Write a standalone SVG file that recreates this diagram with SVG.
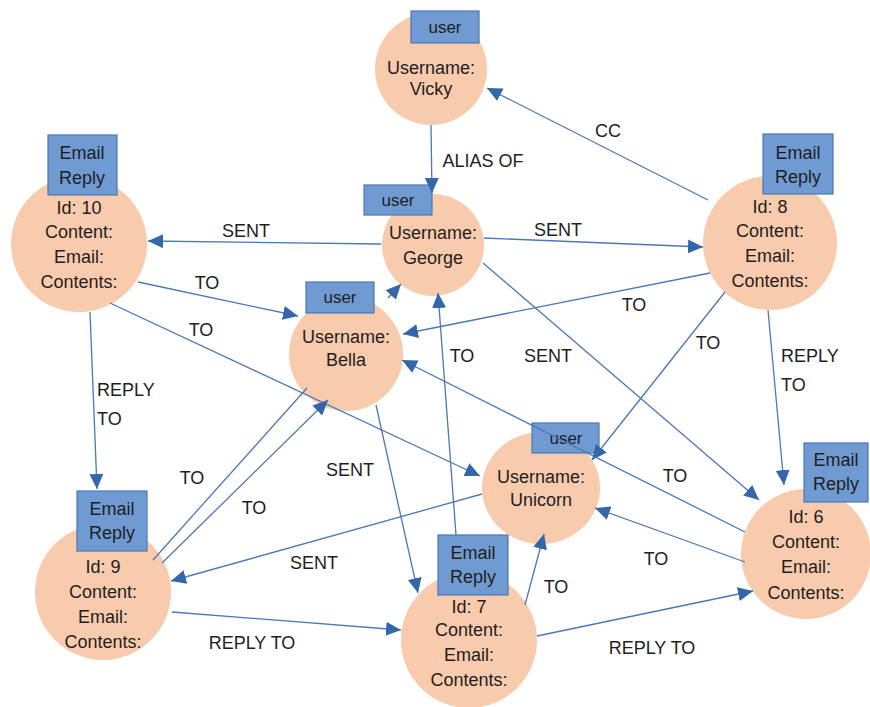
<svg xmlns="http://www.w3.org/2000/svg" width="870" height="707" viewBox="0 0 870 707">
  <style>
    .node { fill: #f8cbad; }
    .tag { fill: #6f9bd2; stroke: #4a78b6; stroke-width: 1.2; }
    text { font-family: "Liberation Sans", Arial, sans-serif; fill: #1e1e1e; }
    .nt { font-size: 18px; text-anchor: middle; }
    .tt { font-size: 17px; text-anchor: middle; }
    .lbl { font-size: 18px; text-anchor: middle; }
    .lbl-l { font-size: 18px; text-anchor: start; }
    .edge { fill: none; stroke: #4a78b8; stroke-width: 1.3; marker-end: url(#head); }
  </style>
  <defs>
    <marker id="head" markerUnits="userSpaceOnUse" markerWidth="16" markerHeight="16" refX="15" refY="7" orient="auto">
      <path d="M0,0 L15,7 L0,14 Z" fill="#3366aa"/>
    </marker>
  </defs>
  <rect width="870" height="707" fill="#ffffff"/>

  <!-- nodes -->
  <g id="vicky">
    <circle class="node" cx="431" cy="69" r="56"/>
    <rect class="tag" x="411" y="11" width="68" height="32"/>
    <text class="tt" x="445" y="33">user</text>
    <text class="nt" x="431" y="74">Username:</text>
    <text class="nt" x="431" y="95">Vicky</text>
  </g>
  <g id="george">
    <circle class="node" cx="433" cy="245" r="51"/>
    <rect class="tag" x="364" y="185" width="68" height="30"/>
    <text class="tt" x="398" y="206">user</text>
    <text class="nt" x="433" y="239">Username:</text>
    <text class="nt" x="433" y="264">George</text>
  </g>
  <g id="bella">
    <circle class="node" cx="346" cy="354" r="57"/>
    <rect class="tag" x="306" y="282" width="68" height="31"/>
    <text class="tt" x="340" y="303">user</text>
    <text class="nt" x="346" y="343">Username:</text>
    <text class="nt" x="346" y="366">Bella</text>
  </g>
  <g id="unicorn">
    <ellipse class="node" cx="541" cy="488" rx="59" ry="56"/>
    <rect class="tag" x="532" y="423" width="67" height="30"/>
    <text class="tt" x="566" y="444">user</text>
    <text class="nt" x="541" y="483">Username:</text>
    <text class="nt" x="541" y="506">Unicorn</text>
  </g>
  <g id="email10">
    <circle class="node" cx="79" cy="244" r="68"/>
    <rect class="tag" x="48" y="135" width="69" height="60"/>
    <text class="nt" x="82" y="159">Email</text>
    <text class="nt" x="82" y="184">Reply</text>
    <text class="nt" x="79" y="214">Id: 10</text>
    <text class="nt" x="79" y="238">Content:</text>
    <text class="nt" x="79" y="263">Email:</text>
    <text class="nt" x="79" y="288">Contents:</text>
  </g>
  <g id="email8">
    <circle class="node" cx="770" cy="243" r="67"/>
    <rect class="tag" x="763" y="134" width="70" height="60"/>
    <text class="nt" x="798" y="159">Email</text>
    <text class="nt" x="798" y="183">Reply</text>
    <text class="nt" x="770" y="213">Id: 8</text>
    <text class="nt" x="770" y="237">Content:</text>
    <text class="nt" x="770" y="262">Email:</text>
    <text class="nt" x="770" y="287">Contents:</text>
  </g>
  <g id="email6">
    <circle class="node" cx="806" cy="554" r="65"/>
    <rect class="tag" x="804" y="443" width="64" height="59"/>
    <text class="nt" x="836" y="466">Email</text>
    <text class="nt" x="836" y="490">Reply</text>
    <text class="nt" x="806" y="523">Id: 6</text>
    <text class="nt" x="806" y="548">Content:</text>
    <text class="nt" x="806" y="573">Email:</text>
    <text class="nt" x="806" y="599">Contents:</text>
  </g>
  <g id="email9">
    <circle class="node" cx="103" cy="592" r="68"/>
    <rect class="tag" x="77" y="491" width="70" height="60"/>
    <text class="nt" x="112" y="515">Email</text>
    <text class="nt" x="112" y="539">Reply</text>
    <text class="nt" x="103" y="573">Id: 9</text>
    <text class="nt" x="103" y="598">Content:</text>
    <text class="nt" x="103" y="623">Email:</text>
    <text class="nt" x="103" y="648">Contents:</text>
  </g>
  <g id="email7">
    <circle class="node" cx="469" cy="640" r="68"/>
    <rect class="tag" x="438" y="535" width="70" height="60"/>
    <text class="nt" x="473" y="559">Email</text>
    <text class="nt" x="473" y="583">Reply</text>
    <text class="nt" x="469" y="613">Id: 7</text>
    <text class="nt" x="469" y="636">Content:</text>
    <text class="nt" x="469" y="661">Email:</text>
    <text class="nt" x="469" y="686">Contents:</text>
  </g>

  <!-- connectors -->
  <g id="connectors">
    <path class="edge" d="M708,200 L487,88"/>
    <path class="edge" d="M431,125 L432,193"/>
    <path class="edge" d="M381,244 L148,241"/>
    <path class="edge" d="M484,238 L703,247"/>
    <path class="edge" d="M138,282 L298,316"/>
    <path class="edge" d="M110,303 L480,476"/>
    <path class="edge" d="M90,312 L97,489"/>
    <path class="edge" d="M710,273 L403,334"/>
    <path class="edge" d="M725,292 L592,460"/>
    <path class="edge" d="M768,310 L784,485"/>
    <path class="edge" d="M483,263 L759,500"/>
    <path class="edge" d="M456,535 L438,293"/>
    <!-- Id 9 to George runs behind Bella -->
    <path class="edge" d="M153,560 L307,388 M388,298 L401,284"/>
    <path class="edge" d="M162,563 L328,400"/>
    <path class="edge" d="M376,405 L418,593"/>
    <path class="edge" d="M482,494 L171,581"/>
    <path class="edge" d="M745,532 L402,360"/>
    <path class="edge" d="M745,562 L595,508"/>
    <path class="edge" d="M525,605 L544,534"/>
    <path class="edge" d="M172,612 L401,630"/>
    <path class="edge" d="M537,636 L753,591"/>

    <text class="lbl" x="608" y="137">CC</text>
    <text class="lbl" x="483" y="167">ALIAS OF</text>
    <text class="lbl" x="246" y="237">SENT</text>
    <text class="lbl" x="558" y="236">SENT</text>
    <text class="lbl" x="207" y="289">TO</text>
    <text class="lbl" x="201" y="336">TO</text>
    <text class="lbl-l" x="97" y="396">REPLY</text>
    <text class="lbl-l" x="97" y="425">TO</text>
    <text class="lbl" x="634" y="311">TO</text>
    <text class="lbl" x="708" y="349">TO</text>
    <text class="lbl-l" x="781" y="362">REPLY</text>
    <text class="lbl-l" x="781" y="391">TO</text>
    <text class="lbl" x="548" y="362">SENT</text>
    <text class="lbl" x="462" y="362">TO</text>
    <text class="lbl" x="192" y="484">TO</text>
    <text class="lbl" x="254" y="514">TO</text>
    <text class="lbl" x="350" y="476">SENT</text>
    <text class="lbl" x="314" y="569">SENT</text>
    <text class="lbl" x="675" y="482">TO</text>
    <text class="lbl" x="656" y="565">TO</text>
    <text class="lbl" x="556" y="593">TO</text>
    <text class="lbl" x="252" y="649">REPLY TO</text>
    <text class="lbl" x="652" y="654">REPLY TO</text>
  </g>
</svg>
